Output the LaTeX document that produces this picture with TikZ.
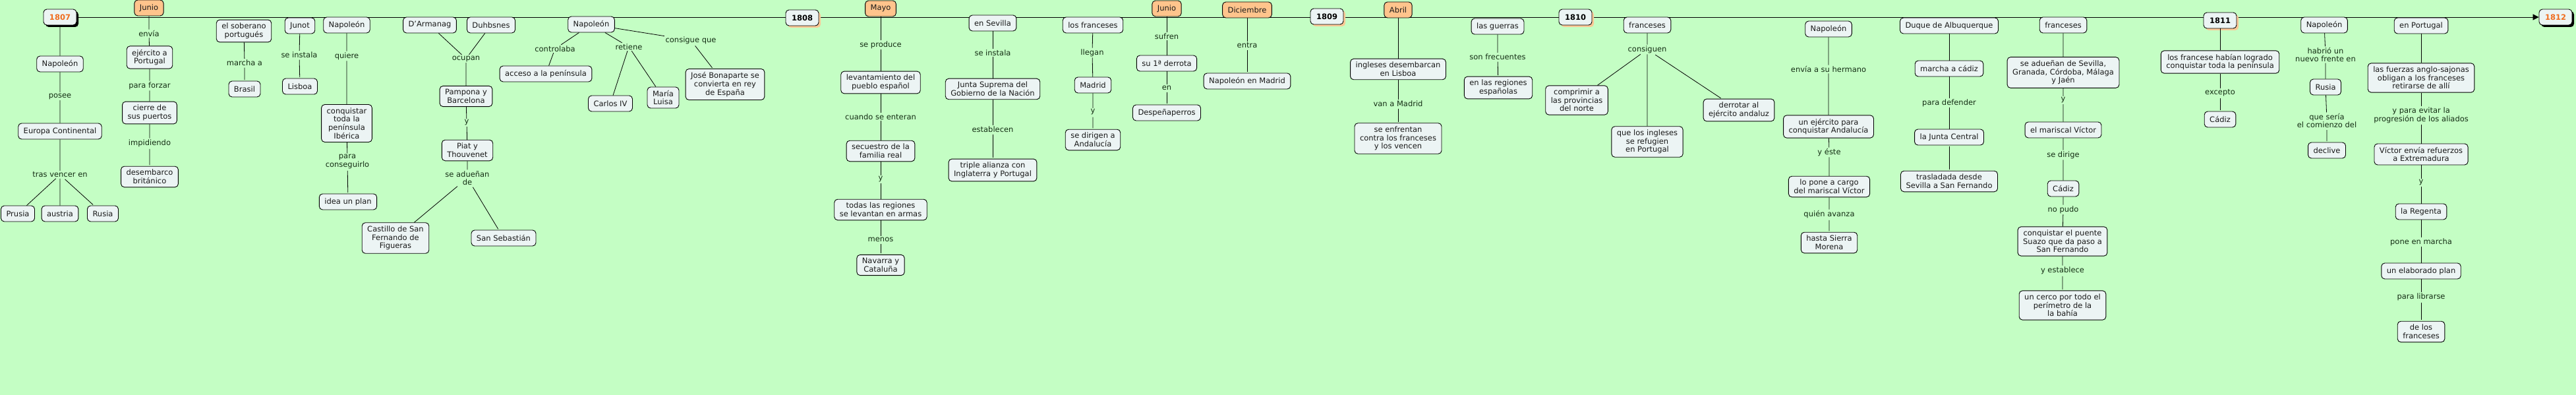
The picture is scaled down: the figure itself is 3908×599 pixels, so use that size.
\documentclass[tikz,border=0pt]{standalone}
\usepackage{fontspec}
\setmainfont{DejaVu Sans}
\usetikzlibrary{shadows,backgrounds,arrows.meta}
\definecolor{bg}{RGB}{196,254,196}
\definecolor{nodefill}{RGB}{236,244,244}
\definecolor{monthfill}{RGB}{255,196,140}
\definecolor{yearorange}{RGB}{240,108,30}
\definecolor{peach}{RGB}{250,200,150}
\definecolor{textcol}{RGB}{25,25,25}
\definecolor{lblcol}{RGB}{20,45,20}
\begin{document}
\begin{tikzpicture}[x=1pt,y=-1pt,
  box/.style={draw=black, line width=0.9pt, rounded corners=5pt, fill=nodefill, align=center,
    inner xsep=8pt, inner ysep=5pt, minimum height=24pt, text=textcol,
    font=\fontsize{11.5}{12.7}\selectfont},
  month/.style={box, fill=monthfill},
  yearblk/.style={box, font=\fontsize{11.5}{12.7}\selectfont\bfseries, inner xsep=9pt,
    drop shadow={shadow xshift=3pt, shadow yshift=-3pt, fill=black, opacity=1}, text=yearorange},
  yearpch/.style={box, font=\fontsize{11.5}{12.7}\selectfont\bfseries, inner xsep=9pt,
    drop shadow={shadow xshift=3pt, shadow yshift=-3pt, fill=peach, opacity=1}, text=black},
  lbl/.style={fill=bg, inner sep=1.5pt, align=center, text=lblcol,
    font=\fontsize{11.5}{12.7}\selectfont},
  conn/.style={draw=black, line width=0.8pt, shorten >=1.5pt, shorten <=1.5pt}]

\begin{pgfonlayer}{background}
\fill[bg] (0,0) rectangle (3908,599);
\end{pgfonlayer}
\useasboundingbox (0,0) rectangle (3908,599);

% ---------- 1807 ----------
\node[yearblk] (n1807) at (91,26) {1807};
\node[month] (jun1) at (226,12) {Junio};
\node[lbl] (lenvia) at (226,51) {envía};
\node[box] (ejport) at (227,87) {ejército a\\Portugal};
\node[lbl] (lforzar) at (227,130) {para forzar};
\node[box] (cierre) at (227,171) {cierre de\\sus puertos};
\node[lbl] (limpid) at (227,217) {impidiendo};
\node[box] (desemb) at (227,268) {desembarco\\británico};
\node[box] (napo1) at (91,97) {Napoleón};
\node[lbl] (lposee) at (91,146) {posee};
\node[box] (europa) at (91,199) {Europa Continental};
\node[lbl] (ltras) at (91,265) {tras vencer en};
\node[box] (prusia) at (27,324) {Prusia};
\node[box] (austria) at (91,324) {austria};
\node[box] (rusia1) at (156,324) {Rusia};

\node[box] (soberano) at (370,47) {el soberano\\portugués};
\node[lbl] (lmarcha) at (371,95) {marcha a};
\node[box] (brasil) at (371,135) {Brasil};
\node[box] (junot) at (455,39) {Junot};
\node[lbl] (linstalaA) at (454,83) {se instala};
\node[box] (lisboa1) at (455,131) {Lisboa};
\node[box] (napo2) at (526,38) {Napoleón};
\node[lbl] (lquiere) at (526,85) {quiere};
\node[box] (conqu) at (526,187) {conquistar\\toda la\\península\\Ibérica};
\node[lbl] (lconsig) at (527,245) {para\\conseguirlo};
\node[box] (idea) at (528,306) {idea un plan};
\node[box] (castillo) at (600,361) {Castillo de San\\Fernando de\\Figueras};

\node[box] (darm) at (652,38) {D'Armanag};
\node[box] (duhb) at (745,38) {Duhbsnes};
\node[lbl] (locupan) at (707,89) {ocupan};
\node[box] (pampona) at (707,146) {Pampona y\\Barcelona};
\node[lbl] (lyA) at (708,186) {y};
\node[box] (piat) at (709,228) {Piat y\\Thouvenet};
\node[lbl] (ladue) at (709,270) {se adueñan\\de};
\node[box] (sanseb) at (764,361) {San Sebastián};
\node[box] (napo3) at (897,37) {Napoleón};
\node[lbl] (lcontr) at (842,74) {controlaba};
\node[box] (acceso) at (828,112) {acceso a la península};
\node[lbl] (lret) at (954,71) {retiene};
\node[box] (carlos) at (926,157) {Carlos IV};
\node[box] (maria) at (1006,148) {María\\Luisa};
\node[lbl] (lconsq) at (1048,61) {consigue que};
\node[box] (jose) at (1100,128) {José Bonaparte se\\convierta en rey\\de España};

% ---------- 1808 ----------
\node[yearpch] (n1808) at (1217,27) {1808};
\node[month] (mayo) at (1336,13) {Mayo};
\node[lbl] (lproduce) at (1336,68) {se produce};
\node[box] (levant) at (1336,125) {levantamiento del\\pueblo español};
\node[lbl] (lenteran) at (1336,177) {cuando se enteran};
\node[box] (secuestro) at (1336,229) {secuestro de la\\familia real};
\node[lbl] (lyB) at (1336,272) {y};
\node[box] (todas) at (1336,318) {todas las regiones\\se levantan en armas};
\node[lbl] (lmenos) at (1336,363) {menos};
\node[box] (navarra) at (1336,402) {Navarra y\\Cataluña};
\node[box] (ensev) at (1506,35) {en Sevilla};
\node[lbl] (linstalaB) at (1506,80) {se instala};
\node[box] (juntaS) at (1506,135) {Junta Suprema del\\Gobierno de la Nación};
\node[lbl] (lestab) at (1506,196) {establecen};
\node[box] (triple) at (1506,258) {triple alianza con\\Inglaterra y Portugal};
\node[box] (losfr) at (1658,38) {los franceses};
\node[lbl] (lllegan) at (1657,80) {llegan};
\node[box] (madrid) at (1658,129) {Madrid};
\node[lbl] (lyC) at (1658,170) {y};
\node[box] (dirigen) at (1658,212) {se dirigen a\\Andalucía};
\node[month] (jun2) at (1770,13) {Junio};
\node[lbl] (lsufren) at (1770,55) {sufren};
\node[box] (derrota) at (1770,96) {su 1ª derrota};
\node[lbl] (len) at (1770,133) {en};
\node[box] (despe) at (1770,171) {Despeñaperros};
\node[month] (dic) at (1892,15) {Diciembre};
\node[lbl] (lentra) at (1892,69) {entra};
\node[box] (napmad) at (1892,123) {Napoleón en Madrid};

% ---------- 1809 ----------
\node[yearpch] (n1809) at (2013,25) {1809};
\node[month] (abril) at (2121,15) {Abril};
\node[box] (ingleses) at (2121,105) {ingleses desembarcan\\en Lisboa};
\node[lbl] (lvanmad) at (2121,157) {van a Madrid};
\node[box] (enfrentan) at (2121,210) {se enfrentan\\contra los franceses\\y los vencen};
\node[box] (guerras) at (2272,40) {las guerras};
\node[lbl] (lfrec) at (2272,86) {son frecuentes};
\node[box] (regiones) at (2273,133) {en las regiones\\españolas};

% ---------- 1810 ----------
\node[yearpch] (n1810) at (2390,26) {1810};
\node[box] (frA) at (2499,38) {franceses};
\node[lbl] (lconsiguen) at (2499,75) {consiguen};
\node[box] (comprimir) at (2392,152) {comprimir a\\las provincias\\del norte};
\node[box] (refug) at (2499,215) {que los ingleses\\se refugien\\en Portugal};
\node[box] (derrotar) at (2638,167) {derrotar al\\ejército andaluz};
\node[box] (napo4) at (2774,44) {Napoleón};
\node[lbl] (lhermano) at (2774,105) {envía a su hermano};
\node[box] (ejand) at (2774,192) {un ejército para\\conquistar Andalucía};
\node[lbl] (leste) at (2775,231) {y éste};
\node[box] (pone) at (2775,283) {lo pone a cargo\\del mariscal Víctor};
\node[lbl] (lavanza) at (2775,325) {quién avanza};
\node[box] (sierra) at (2775,368) {hasta Sierra\\Morena};
\node[box] (duque) at (2957,39) {Duque de Albuquerque};
\node[box] (marchac) at (2957,104) {marcha a cádiz};
\node[lbl] (ldefender) at (2957,156) {para defender};
\node[box] (juntaC) at (2957,208) {la Junta Central};
\node[box] (traslad) at (2957,275) {trasladada desde\\Sevilla a San Fernando};
\node[box] (frB) at (3130,38) {franceses};
\node[box] (aduen) at (3130,110) {se adueñan de Sevilla,\\Granada, Córdoba, Málaga\\y Jaén};
\node[lbl] (lyD) at (3130,152) {y};
\node[box] (mariscal) at (3130,197) {el mariscal Víctor};
\node[lbl] (ldirige) at (3130,235) {se dirige};
\node[box] (cadizA) at (3130,286) {Cádiz};
\node[lbl] (lnopudo) at (3130,318) {no pudo};
\node[box] (puente) at (3129,366) {conquistar el puente\\Suazo que da paso a\\San Fernando};
\node[lbl] (lestabB) at (3129,410) {y establece};
\node[box] (cerco) at (3129,463) {un cerco por todo el\\perímetro de la\\la bahía};

% ---------- 1811 ----------
\node[yearpch] (n1811) at (3368,31) {1811};
\node[box] (logrado) at (3368,94) {los francese habían logrado\\conquistar toda la península};
\node[lbl] (lexcepto) at (3368,141) {excepto};
\node[box] (cadizB) at (3368,181) {Cádiz};
\node[box] (napo5) at (3526,38) {Napoleón};
\node[lbl] (lfrente) at (3528,83) {habrió un\\nuevo frente en};
\node[box] (rusia2) at (3528,132) {Rusia};
\node[lbl] (lseria) at (3530,183) {que sería\\el comienzo del};
\node[box] (declive) at (3530,228) {declive};
\node[box] (enport) at (3673,39) {en Portugal};
\node[box] (fuerzas) at (3673,118) {las fuerzas anglo-sajonas\\obligan a los franceses\\retirarse de allí};
\node[lbl] (levitar) at (3673,175) {y para evitar la\\progresión de los aliados};
\node[box] (victorenv) at (3673,234) {Víctor envía refuerzos\\a Extremadura};
\node[lbl] (lyE) at (3673,277) {y};
\node[box] (regenta) at (3673,321) {la Regenta};
\node[lbl] (lmarchaB) at (3673,367) {pone en marcha};
\node[box] (plan) at (3673,411) {un elaborado plan};
\node[lbl] (llibrarse) at (3673,450) {para librarse};
\node[box] (defr) at (3673,503) {de los\\franceses};
\node[yearblk] (n1812) at (3877,26) {1812};

% ---------- timeline ----------
\begin{pgfonlayer}{background}
\draw[line width=0.8pt, -{Triangle[length=9pt,width=9pt]}] (n1807.east) -- (n1812.west);
\end{pgfonlayer}

% ---------- connectors ----------
\draw[conn] (jun1) -- (lenvia) (lenvia) -- (ejport) (ejport) -- (lforzar) (lforzar) -- (cierre)
  (cierre) -- (limpid) (limpid) -- (desemb);
\draw[conn] (n1807) -- (napo1) (napo1) -- (lposee) (lposee) -- (europa) (europa) -- (ltras)
  (ltras) -- (prusia) (ltras) -- (austria) (ltras) -- (rusia1);
\draw[conn] (soberano) -- (lmarcha) (lmarcha) -- (brasil);
\draw[conn] (junot) -- (linstalaA) (linstalaA) -- (lisboa1);
\draw[conn] (napo2) -- (lquiere) (lquiere) -- (conqu) (conqu) -- (lconsig) (lconsig) -- (idea);
\draw[conn] (darm) -- (locupan) (duhb) -- (locupan) (locupan) -- (pampona) (pampona) -- (lyA)
  (lyA) -- (piat) (piat) -- (ladue) (ladue) -- (castillo) (ladue) -- (sanseb);
\draw[conn] (napo3) -- (lcontr) (lcontr) -- (acceso) (napo3) -- (lret) (lret) -- (carlos)
  (lret) -- (maria) (napo3) -- (lconsq) (lconsq) -- (jose);
\draw[conn] (mayo) -- (lproduce) (lproduce) -- (levant) (levant) -- (lenteran) (lenteran) -- (secuestro)
  (secuestro) -- (lyB) (lyB) -- (todas) (todas) -- (lmenos) (lmenos) -- (navarra);
\draw[conn] (ensev) -- (linstalaB) (linstalaB) -- (juntaS) (juntaS) -- (lestab) (lestab) -- (triple);
\draw[conn] (losfr) -- (lllegan) (lllegan) -- (madrid) (madrid) -- (lyC) (lyC) -- (dirigen);
\draw[conn] (jun2) -- (lsufren) (lsufren) -- (derrota) (derrota) -- (len) (len) -- (despe);
\draw[conn] (dic) -- (lentra) (lentra) -- (napmad);
\draw[conn] (abril) -- (ingleses) (ingleses) -- (lvanmad) (lvanmad) -- (enfrentan);
\draw[conn] (guerras) -- (lfrec) (lfrec) -- (regiones);
\draw[conn] (frA) -- (lconsiguen) (lconsiguen) -- (comprimir) (lconsiguen) -- (refug) (lconsiguen) -- (derrotar);
\draw[conn] (napo4) -- (lhermano) (lhermano) -- (ejand) (ejand) -- (leste) (leste) -- (pone)
  (pone) -- (lavanza) (lavanza) -- (sierra);
\draw[conn] (duque) -- (marchac) (marchac) -- (ldefender) (ldefender) -- (juntaC) (juntaC) -- (traslad);
\draw[conn] (frB) -- (aduen) (aduen) -- (lyD) (lyD) -- (mariscal) (mariscal) -- (ldirige) (ldirige) -- (cadizA)
  (cadizA) -- (lnopudo) (lnopudo) -- (puente) (puente) -- (lestabB) (lestabB) -- (cerco);
\draw[conn] (n1811) -- (logrado) (logrado) -- (lexcepto) (lexcepto) -- (cadizB);
\draw[conn] (napo5) -- (lfrente) (lfrente) -- (rusia2) (rusia2) -- (lseria) (lseria) -- (declive);
\draw[conn] (enport) -- (fuerzas) (fuerzas) -- (levitar) (levitar) -- (victorenv) (victorenv) -- (lyE)
  (lyE) -- (regenta) (regenta) -- (lmarchaB) (lmarchaB) -- (plan) (plan) -- (llibrarse) (llibrarse) -- (defr);
\end{tikzpicture}
\end{document}
